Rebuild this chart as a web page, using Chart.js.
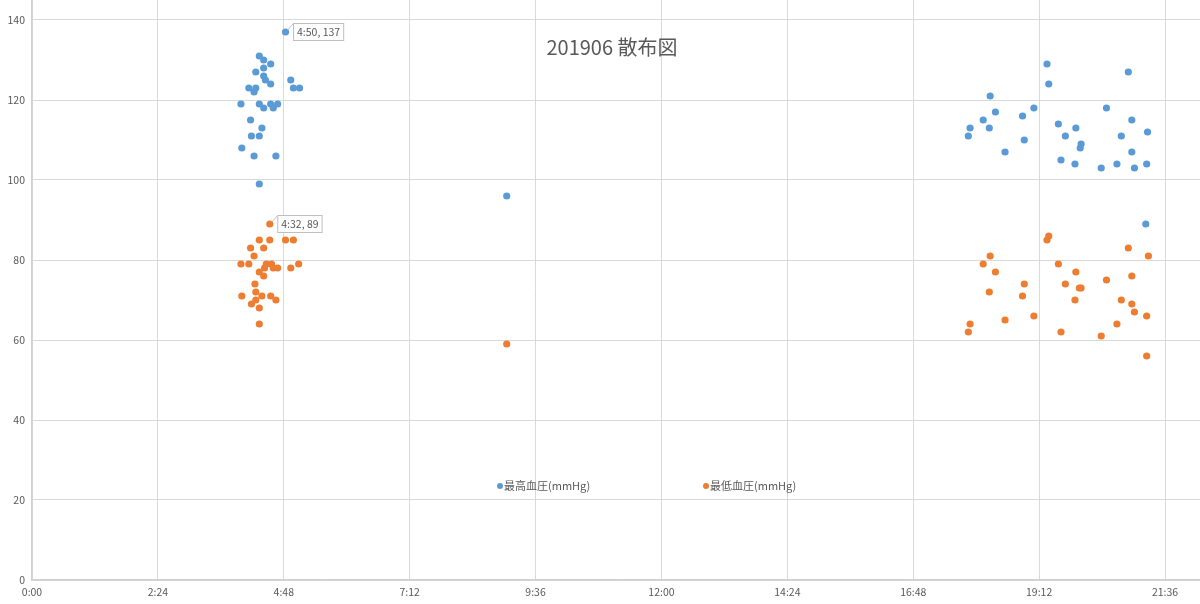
<!DOCTYPE html>
<html>
<head>
<meta charset="utf-8">
<script src="https://cdn.jsdelivr.net/npm/chart.js@4/dist/chart.umd.min.js"></script>
<style>
    html, body { margin: 0; padding: 0; background: #fff; }
    #wrap { width: 1200px; height: 604px; }
</style>
</head>
<body>
<div id="wrap"><canvas id="bp"></canvas></div>
<script>
var TITLE = '201906 散布図';
var SERIES_NAMES = ['最高血圧(mmHg)', '最低血圧(mmHg)'];

var highTimes = ['4:50','4:20','4:25','4:33','4:25','4:16','4:25','4:27','4:56','4:33',
                 '4:08','4:16','4:14','4:59','5:06','3:59','4:20','4:33','4:41','4:36',
                 '4:25','4:10','4:23','4:11','4:20','4:00','4:14','4:39','4:20','9:03',
                 '19:21','20:54','19:23','18:16','19:06','20:29','18:22','18:53','18:08','20:58',
                 '17:53','18:15','19:54','19:34','21:16','17:51','19:42','20:46','18:55','20:00',
                 '19:59','18:33','20:58','19:37','19:53','20:41','21:15','20:23','21:01','21:14'];
var highValues = [137,131,130,129,128,127,126,125,125,124,
                  123,123,122,123,123,119,119,119,119,118,
                  118,115,113,111,111,108,106,106,99,96,
                  129,127,124,121,118,118,117,116,115,115,
                  113,113,113,114,112,111,111,111,110,109,
                  108,107,107,105,104,104,104,103,103,89];

var lowTimes = ['4:32','4:20','4:32','4:50','4:59','4:10','4:25','4:14','3:59','4:08',
                '4:28','4:34','5:05','4:26','4:36','4:41','4:56','4:20','4:25','4:15',
                '4:16','4:00','4:23','4:33','4:39','4:16','4:11','4:20','4:20','9:03',
                '19:23','19:21','20:54','18:16','21:17','18:08','19:34','18:22','19:54','20:58',
                '20:29','18:55','19:42','20:00','19:58','18:15','18:53','19:53','20:46','20:58',
                '21:01','19:06','21:15','18:33','17:53','20:41','17:51','19:37','20:23','21:15'];
var lowValues = [89,85,85,85,85,83,83,81,79,79,
                 79,79,79,78,78,78,78,77,76,74,
                 72,71,71,71,70,70,69,68,64,59,
                 86,85,83,81,81,79,79,77,77,76,
                 75,74,74,73,73,72,71,70,70,69,
                 67,66,66,65,64,64,62,62,61,56];

// points that carry a data label in the original (time, value)
var highCallouts = ['4:50 137'];
var lowCallouts = ['4:32 89'];

var xTickLabels = ['0:00','2:24','4:48','7:12','9:36','12:00','14:24','16:48','19:12','21:36'];
var yTickValues = [0, 20, 40, 60, 80, 100, 120, 140];

const BLUE = '#5B9BD5';
const ORANGE = '#ED7D31';
const GRID = '#D9D9D9';
const TEXT = '#595959';
const FONT = "'Noto Sans CJK JP', 'Noto Sans', sans-serif";

function toMinutes(t) {
    let p = t.split(':');
    return parseInt(p[0]) * 60 + parseInt(p[1]);
}

function toPoints(times, values) {
    return times.map((t, i) => ({x: toMinutes(t), y: values[i], t: t}));
}

var xTickMinutes = xTickLabels.map(toMinutes);

// title, legend and data-label callouts drawn over the plot like in Excel
const overlay = {
    id: 'overlay',
    afterDatasetsDraw(chart) {
        const ctx = chart.ctx;
        ctx.save();

        // callouts
        const callouts = [highCallouts, lowCallouts];
        chart.data.datasets.forEach((ds, di) => {
            const meta = chart.getDatasetMeta(di);
            ds.data.forEach((d, i) => {
                if (callouts[di].indexOf(d.t + ' ' + d.y) < 0) return;
                const el = meta.data[i];
                const text = d.t + ', ' + d.y;
                ctx.font = '10.5px ' + FONT;
                const w = ctx.measureText(text).width + 7;
                const bx = el.x + 7.5, by = el.y - 9;
                ctx.strokeStyle = '#BFBFBF';
                ctx.lineWidth = 1;
                ctx.beginPath();
                ctx.moveTo(el.x + 2, el.y - 2);
                ctx.lineTo(bx, el.y - 8);
                ctx.stroke();
                ctx.fillStyle = '#fff';
                ctx.fillRect(bx, by, w, 17);
                ctx.strokeRect(bx + 0.5, by + 0.5, w, 17);
                ctx.fillStyle = TEXT;
                ctx.textBaseline = 'middle';
                ctx.textAlign = 'left';
                ctx.fillText(text, bx + 4, by + 9);
            });
        });

        // title
        ctx.fillStyle = TEXT;
        ctx.font = '20px ' + FONT;
        ctx.textAlign = 'center';
        ctx.textBaseline = 'middle';
        ctx.fillText(TITLE, 612, 47);

        // legend
        const legendX = [500, 706];
        ctx.font = '11px ' + FONT;
        ctx.textAlign = 'left';
        chart.data.datasets.forEach((ds, di) => {
            ctx.fillStyle = ds.backgroundColor;
            ctx.beginPath();
            ctx.arc(legendX[di], 486, 3, 0, Math.PI * 2);
            ctx.fill();
            ctx.fillStyle = TEXT;
            ctx.fillText(ds.label, legendX[di] + 4, 486);
        });
        ctx.restore();
    }
};

var data = {
    datasets: [
        {
            label: SERIES_NAMES[0],
            backgroundColor: BLUE,
            borderColor: BLUE,
            data: toPoints(highTimes, highValues)
        },
        {
            label: SERIES_NAMES[1],
            backgroundColor: ORANGE,
            borderColor: ORANGE,
            data: toPoints(lowTimes, lowValues)
        }
    ]
};

const config = {
    type: 'scatter',
    data: data,
    plugins: [overlay],
    options: {
        responsive: false,
        animation: false,
        layout: { padding: 0, autoPadding: false },
        elements: {
            point: {
                pointStyle: 'circle',
                radius: 3.6,
                borderWidth: 0
            }
        },
        scales: {
            x: {
                type: 'linear',
                min: 0,
                max: 1336,
                afterBuildTicks: function (scale) {
                    scale.ticks = xTickMinutes.map(v => ({value: v}));
                },
                afterFit: function (scale) {
                    scale.height = 24;
                    scale.paddingLeft = 0;
                    scale.paddingRight = 0;
                },
                grid: { color: GRID, lineWidth: 1, drawTicks: false },
                border: { color: '#D0D0D0', width: 1.5 },
                ticks: {
                    color: TEXT,
                    font: { family: FONT, size: 10.5 },
                    padding: 6,
                    maxRotation: 0,
                    autoSkip: false,
                    callback: function (value) {
                        return xTickLabels[xTickMinutes.indexOf(value)];
                    }
                }
            },
            y: {
                min: 0,
                max: 145,
                afterBuildTicks: function (scale) {
                    scale.ticks = yTickValues.map(v => ({value: v}));
                },
                afterFit: function (scale) {
                    scale.width = 32;
                    scale.paddingTop = 0;
                    scale.paddingBottom = 0;
                },
                grid: { color: GRID, lineWidth: 1, drawTicks: false },
                border: { color: '#D0D0D0', width: 1.5 },
                ticks: {
                    color: TEXT,
                    font: { family: FONT, size: 10.5 },
                    padding: 7
                }
            }
        },
        plugins: {
            legend: { display: false },
            title: { display: false },
            tooltip: { enabled: false }
        }
    }
};

var canvas = document.getElementById('bp');
canvas.width = 1200;
canvas.height = 604;
var graphic = new Chart(canvas, config);
</script>
</body>
</html>
